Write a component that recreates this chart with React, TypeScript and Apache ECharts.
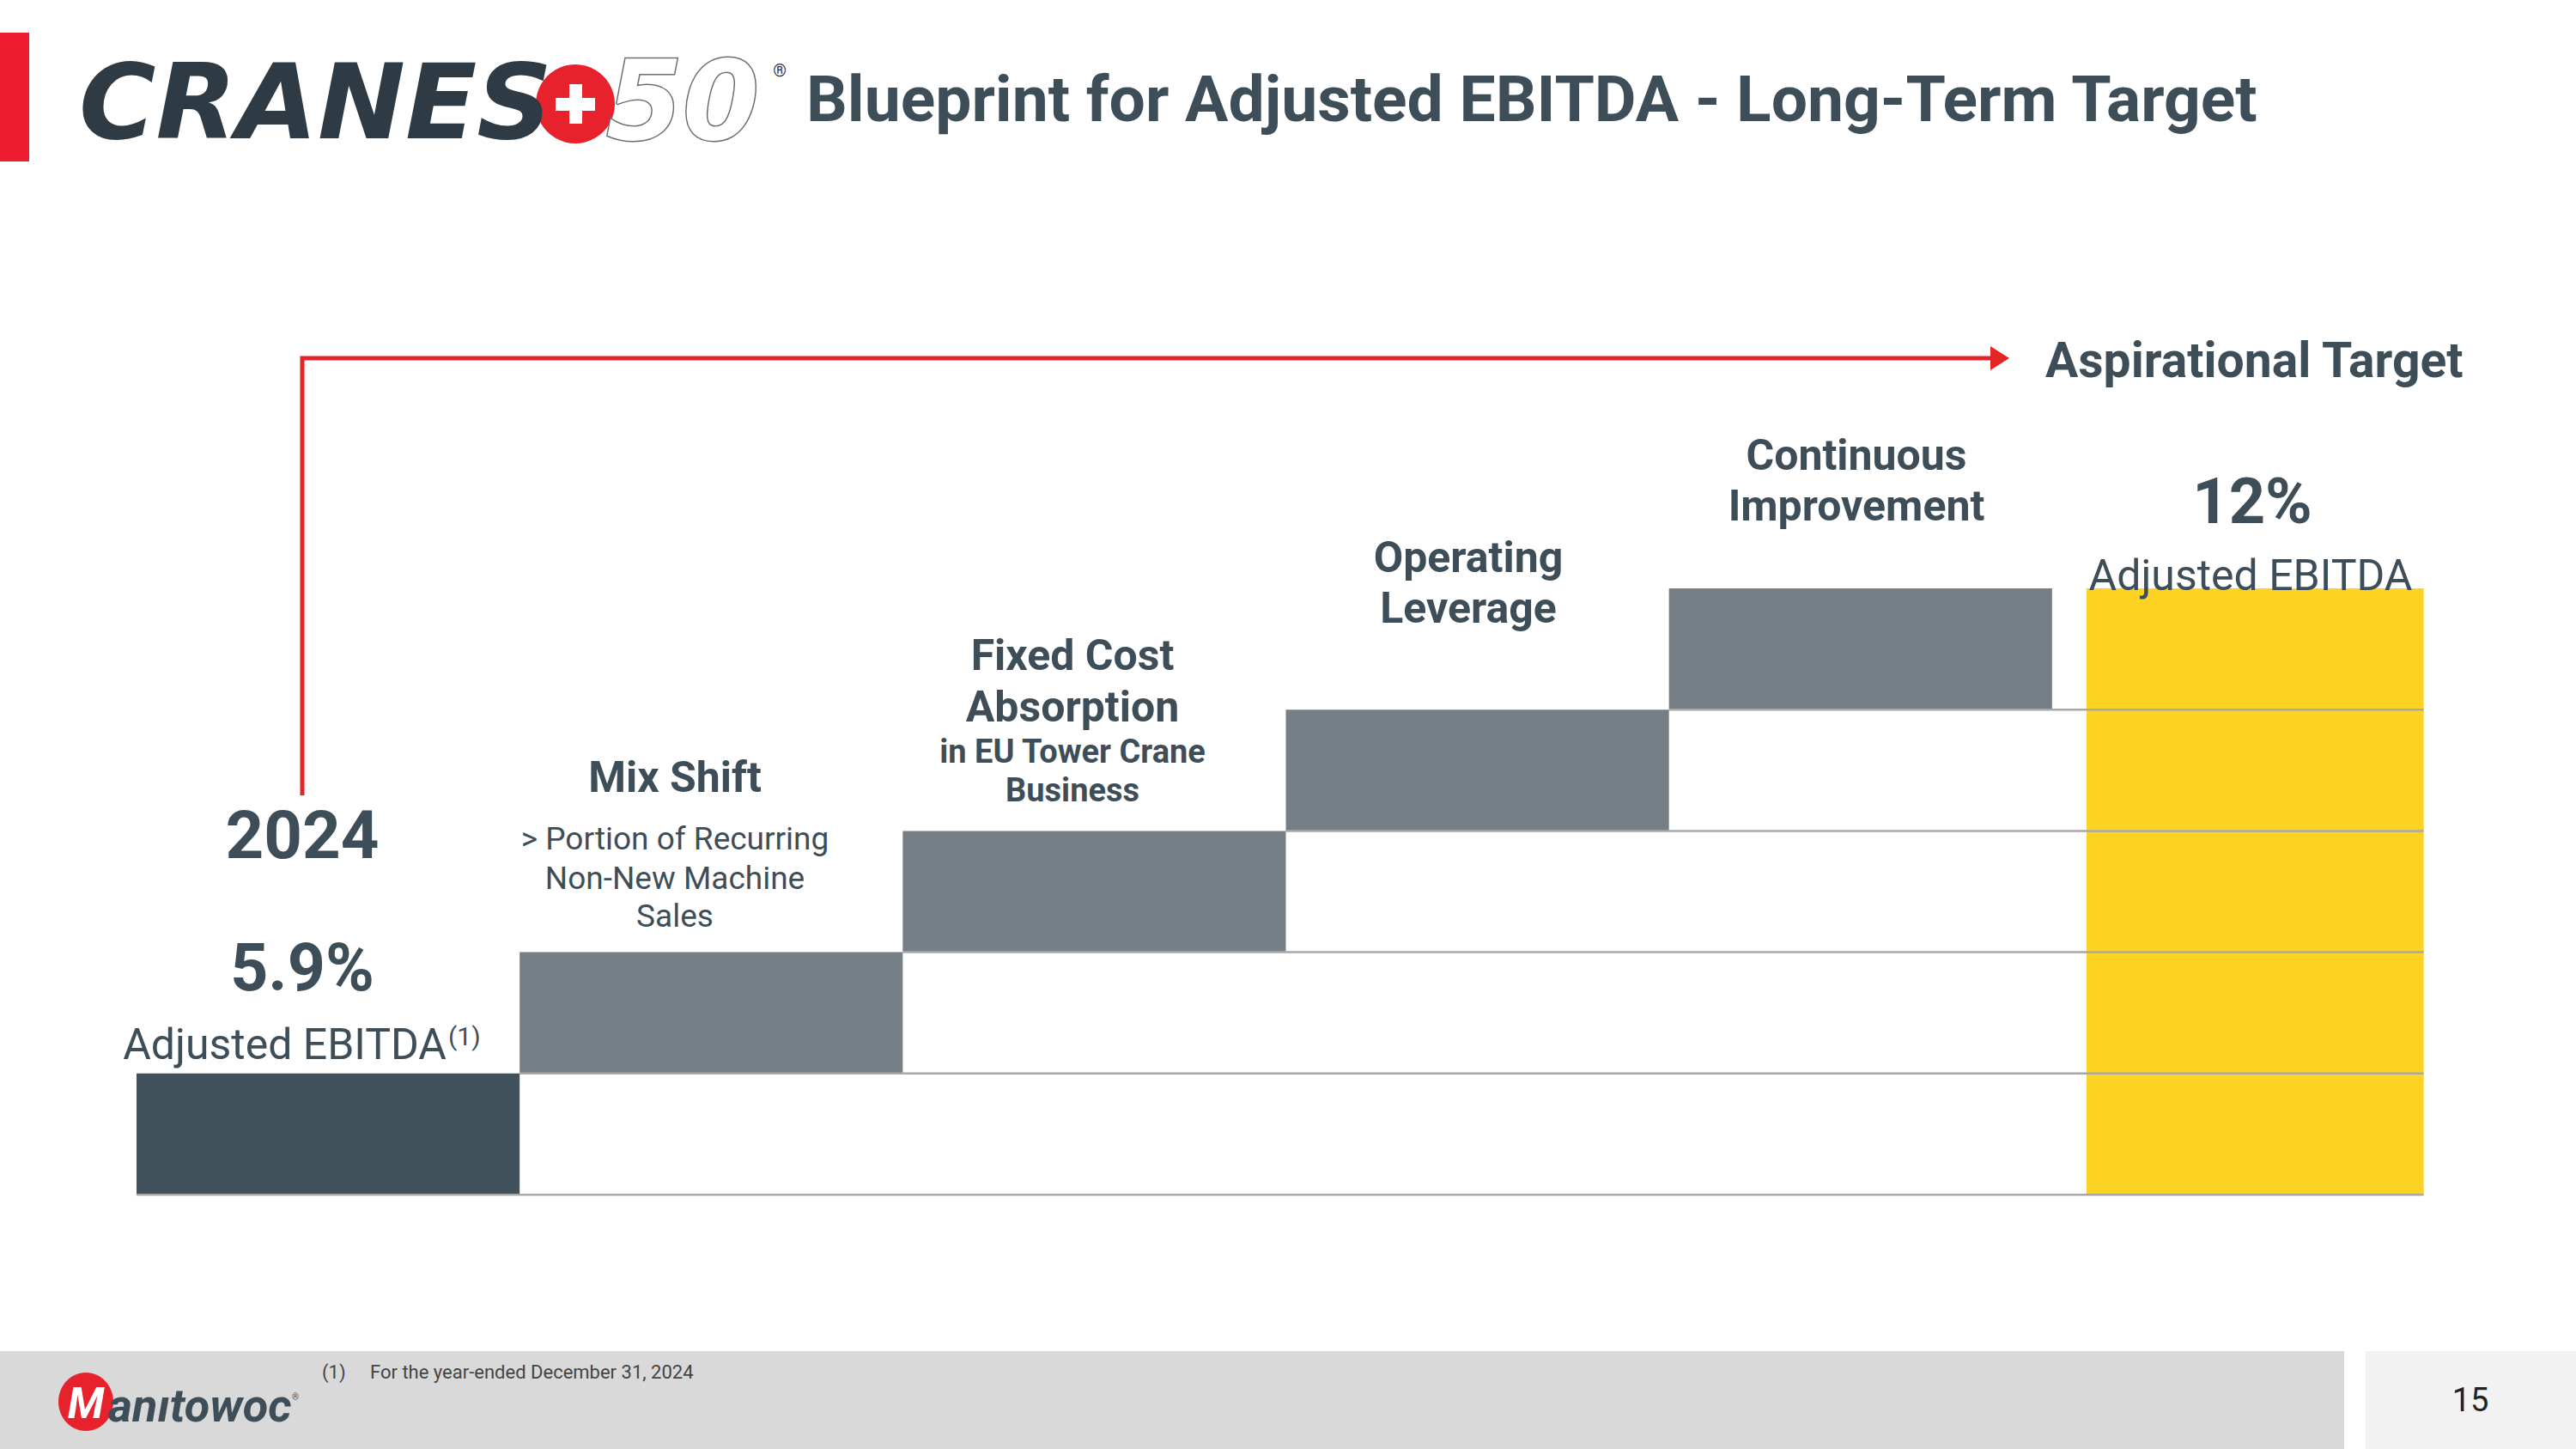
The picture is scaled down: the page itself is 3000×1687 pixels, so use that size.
import React, { useEffect, useRef } from "react";
import * as echarts from "echarts";

// ---- data ----
const categories = ["2024", "Mix Shift", "Fixed Cost Absorption", "Operating Leverage", "Continuous Improvement", "Aspirational Target"];
// visual step heights of the waterfall (each driver adds one equal step)
const stepHeights = [1, 1, 1, 1, 1];
const targetHeight = 5;
const baseMarginLabel = "5.9%";
const targetMarginLabel = "12%";
const driverTitles = [["Mix Shift"], ["Fixed Cost", "Absorption"], ["Operating", "Leverage"], ["Continuous", "Improvement"]];
const mixShiftNotes = ["> Portion of Recurring", "Non-New Machine", "Sales"];
const fixedCostNotes = ["in EU Tower Crane", "Business"];

const DARK = "#3e4e59";
const FONT = "Roboto";

export default function App() {
  const ref = useRef<HTMLDivElement>(null);
  useEffect(() => {
    document.body.style.margin = "0";
    const chart = echarts.init(ref.current!, null, { renderer: "svg" });

    // build waterfall rows [index, low, high]
    const rows: number[][] = [];
    let level = 0;
    stepHeights.forEach((h, i) => {
      rows.push([i, level, level + h]);
      level += h;
    });
    rows.push([5, 0, targetHeight]);
    const barColors = ["#42525c", "#767f85", "#767f85", "#767f85", "#767f85", "#fcd322"];

    const txt = (text: string, x: number, y: number, size: number, weight: any = "bold", align = "center", fill = DARK, extra: any = {}) => ({
      type: "text",
      x,
      y,
      z: 100,
      style: { text, fill, fontSize: size, fontWeight: weight, fontFamily: FONT, align, verticalAlign: "middle", ...extra },
    });

    const graphics: any[] = [
      // red side bar
      { type: "rect", shape: { x: 0, y: 38, width: 34, height: 150 }, style: { fill: "#ed1c2e" } },
      // CRANES+50 logo
      { type: "circle", shape: { cx: 670, cy: 121, r: 46 }, style: { fill: "#e8222c" }, z: 90 },
      { type: "rect", shape: { x: 647, y: 114, width: 46, height: 15 }, style: { fill: "#fff" }, z: 91 },
      { type: "rect", shape: { x: 663, y: 98, width: 15, height: 46 }, style: { fill: "#fff" }, z: 91 },
      txt("CRANES", 92, 119, 122, "bold", "left", "#2e3b45", { fontStyle: "italic", fontFamily: "DejaVu Sans" }),
      txt("50", 706, 117, 128, "bold", "left", "#ffffff", { fontStyle: "italic", fontFamily: "DejaVu Sans", stroke: "#6a6f73", lineWidth: 3 }),
      txt("®", 908, 82, 20, "normal", "center", "#333"),
      // title
      txt("Blueprint for Adjusted EBITDA - Long-Term Target", 939, 115, 75, "bold", "left"),
      // red arrow
      { type: "polyline", shape: { points: [[352, 926], [352, 417], [2322, 417]] }, style: { stroke: "#e42528", lineWidth: 5, fill: null } },
      { type: "polygon", shape: { points: [[2318, 403], [2340, 417], [2318, 431]] }, style: { fill: "#e42528" } },
      txt("Aspirational Target", 2382, 419, 57, "bold", "left"),
      // 2024 block
      txt("2024", 352, 972, 78),
      txt(baseMarginLabel, 352, 1127, 77),
      txt("Adjusted EBITDA", 520, 1216, 50, "normal", "right"),
      txt("(1)", 522, 1206, 30, "normal", "left"),
      // drivers
      txt(driverTitles[0][0], 786, 905, 50),
      txt(mixShiftNotes[0], 786, 976, 37, "normal"),
      txt(mixShiftNotes[1], 786, 1022, 37, "normal"),
      txt(mixShiftNotes[2], 786, 1066, 37, "normal"),
      txt(driverTitles[1][0], 1249, 763, 50),
      txt(driverTitles[1][1], 1249, 823, 50),
      txt(fixedCostNotes[0], 1249, 875, 38),
      txt(fixedCostNotes[1], 1249, 920, 38),
      txt(driverTitles[2][0], 1710, 649, 50),
      txt(driverTitles[2][1], 1710, 708, 50),
      txt(driverTitles[3][0], 2162, 530, 50),
      txt(driverTitles[3][1], 2162, 589, 50),
      // target
      txt(targetMarginLabel, 2623, 583, 74),
      txt("Adjusted EBITDA", 2621, 670, 50, "normal"),
      // footer
      { type: "rect", shape: { x: 0, y: 1573, width: 2730, height: 114 }, style: { fill: "#d9d9d9" } },
      { type: "rect", shape: { x: 2755, y: 1573, width: 245, height: 114 }, style: { fill: "#f2f2f2" } },
      txt("15", 2877, 1630, 38, "normal", "center", "#222"),
      txt("(1)", 375, 1597, 22, "normal", "left", "#444"),
      txt("For the year-ended December 31, 2024", 431, 1597, 22, "normal", "left", "#444"),
      { type: "ellipse", shape: { cx: 100, cy: 1632, rx: 32, ry: 34 }, style: { fill: "#e8222c" } },
      txt("M", 100, 1634, 50, "bold", "center", "#ffffff", { fontStyle: "italic" }),
      txt("anıtowoc", 126, 1636, 54, "bold", "left", "#3e4e59", { fontStyle: "italic" }),
      txt("®", 340, 1626, 10, "normal", "left", "#3e4e59"),
    ];

    chart.setOption({
      animation: false,
      backgroundColor: "#ffffff",
      grid: { left: 159, right: 164, top: 685, bottom: 296 },
      xAxis: { type: "category", data: categories, show: false },
      yAxis: { type: "value", min: 0, max: targetHeight, show: false },
      series: [
        {
          type: "custom",
          z: 2,
          data: rows,
          renderItem: (params: any, api: any) => {
            const idx = api.value(0);
            const p0 = api.coord([idx, api.value(1)]);
            const p1 = api.coord([idx, api.value(2)]);
            const w = api.size([1, 0])[0];
            const bw = idx === 5 ? w * 0.88 : w;
            const cx = idx === 5 ? p0[0] + w * 0.03 : p0[0];
            return {
              type: "rect",
              shape: { x: cx - bw / 2, y: p1[1], width: bw, height: p0[1] - p1[1] },
              style: { fill: barColors[idx] },
            };
          },
        },
        {
          type: "custom",
          z: 5,
          data: rows.slice(0, 5),
          renderItem: (params: any, api: any) => {
            const idx = api.value(0);
            const p0 = api.coord([idx, api.value(1)]);
            const w = api.size([1, 0])[0];
            const rightEnd = api.coord([5, 0])[0] + w * 0.47;
            return {
              type: "line",
              shape: { x1: p0[0] - w / 2, y1: p0[1], x2: rightEnd, y2: p0[1] },
              style: { stroke: "#a8a8a8", lineWidth: 2.5 },
            };
          },
        },
      ],
      graphic: graphics,
    });
    return () => chart.dispose();
  }, []);
  return <div ref={ref} style={{ width: "100vw", height: "100vh" }} />;
}
